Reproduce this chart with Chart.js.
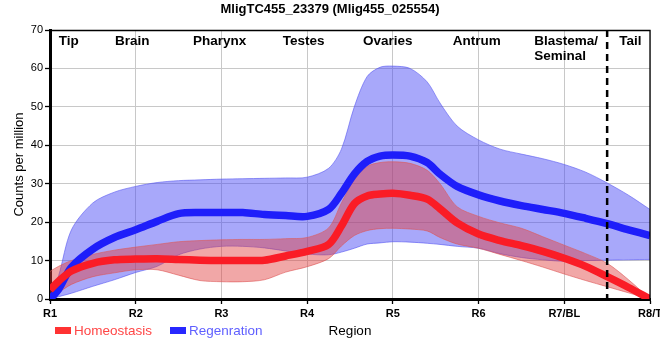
<!DOCTYPE html>
<html>
<head>
<meta charset="utf-8">
<script src="https://cdn.jsdelivr.net/npm/chart.js@4.4.1/dist/chart.umd.min.js"></script>
<style>
html,body{margin:0;padding:0;background:#fff;}
#wrap{width:660px;height:360px;position:relative;}
</style>
</head>
<body>
<div id="wrap"><canvas id="c" width="660" height="360"></canvas></div>
<script>
// ---- data ----
const chartTitle = "MligTC455_23379 (Mlig455_025554)";
const xTickLabels = ["R1", "R2", "R3", "R4", "R5", "R6", "R7/BL", "R8/T"];
const regionNames = ["Tip", "Brain", "Pharynx", "Testes", "Ovaries", "Antrum", ["Blastema/", "Seminal"], "Tail"];
const regionAt = [0.22, 0.96, 1.98, 2.96, 3.94, 4.98, 5.65, 6.77];
const seriesNames = ["Homeostasis", "Regenration"];
const boundaryAt = 6.5;
const xPos = [0, 0.1, 0.25, 0.5, 0.75, 1, 1.25, 1.5, 1.75, 2, 2.25, 2.5, 2.75, 3, 3.25, 3.4, 3.55, 3.7, 3.85, 4, 4.2, 4.4, 4.55, 4.75, 5, 5.25, 5.5, 5.75, 6, 6.25, 6.5, 6.75, 7];
const homeoMean  = [2.4, 4.6, 7.3, 9.3, 10.2, 10.4, 10.5, 10.3, 10.1, 10, 10, 10.1, 11.2, 12.4, 14.2, 19, 24.8, 26.8, 27.3, 27.5, 27, 26, 23.5, 19.8, 16.9, 15.2, 13.9, 12.4, 10.6, 8.5, 5.8, 3, 0];
const homeoUpper = [7.2, 8.5, 10, 11.6, 12.7, 13.5, 14.2, 14.9, 15.2, 15.4, 15.5, 15.5, 15.7, 16, 18.5, 25, 31, 34.5, 35.5, 35.7, 35.3, 33.5, 30, 24, 21.5, 19.8, 18.4, 16.2, 14, 11.8, 9.3, 5, 0];
const homeoLower = [0.5, 1.7, 3.8, 5.8, 6.8, 7.6, 7.6, 6.2, 4.8, 4.5, 4.5, 5, 7, 8.4, 10.5, 13.8, 16.5, 17.8, 18.3, 18.4, 18.2, 17.7, 16, 14.3, 13.2, 11.6, 10, 8.3, 6.5, 4.8, 3.2, 1.6, 0];
const regenMean  = [0, 2.5, 8.3, 13, 16, 18, 20.2, 22.2, 22.5, 22.5, 22.5, 22, 21.7, 21.5, 23.3, 27.5, 32.5, 35.8, 37.2, 37.5, 37.2, 35.5, 32.5, 29.3, 27.1, 25.5, 24.3, 23.3, 22.3, 21, 19.6, 18, 16.5];
const regenUpper = [0, 6, 18, 25, 27.8, 29.3, 30.3, 30.8, 31, 31.2, 31.3, 31.4, 31.5, 31.7, 34, 39, 50, 57.9, 60.3, 60.6, 60, 56.5, 51, 45, 41.4, 39, 37.7, 36.5, 35, 33, 30.2, 27, 23.3];
const regenLower = [0, 0.6, 1.5, 3.3, 5, 6.9, 8.5, 11.5, 13, 13.7, 13.7, 13.3, 12.5, 11.7, 11.5, 12.2, 13.2, 14.3, 14.6, 14.9, 14.8, 14.5, 14.2, 13.7, 13.2, 11.8, 10.8, 10.2, 9.8, 10, 10.1, 10.2, 10.3];

const pts = arr => arr.map((v, i) => ({x: xPos[i], y: v}));
const FONT = "'Liberation Sans', Arial, sans-serif";

const RED_LINE = 'rgb(250,28,38)';
const BLUE_LINE = 'rgb(30,30,250)';
const RED_FILL = 'rgba(225,60,60,0.45)';
const BLUE_FILL = 'rgba(70,70,245,0.47)';

const base = {pointRadius: 0, pointHoverRadius: 0, tension: 0.3};

const decor = {
  id: 'decor',
  afterDatasetsDraw(chart) {
    const {ctx, chartArea: a, scales: {x}} = chart;
    ctx.save();
    // dashed boundary
    const bx = x.getPixelForValue(boundaryAt);
    ctx.strokeStyle = '#000';
    ctx.lineWidth = 2.5;
    ctx.setLineDash([7, 5]);
    ctx.beginPath(); ctx.moveTo(bx, a.top); ctx.lineTo(bx, a.bottom + 5); ctx.stroke();
    ctx.setLineDash([]);
    // thin top/right frame
    ctx.lineWidth = 1.3;
    ctx.beginPath();
    ctx.moveTo(a.left, a.top + 0.5); ctx.lineTo(a.right, a.top + 0.5); ctx.lineTo(a.right, a.bottom);
    ctx.stroke();
    // region labels
    ctx.fillStyle = '#000';
    ctx.font = 'bold 13.5px ' + FONT;
    ctx.textBaseline = 'middle';
    regionNames.forEach((n, i) => {
      const px = x.getPixelForValue(regionAt[i]);
      if (Array.isArray(n)) {
        ctx.textAlign = 'left';
        n.forEach((line, j) => ctx.fillText(line, px, 41 + j * 15));
      } else {
        ctx.textAlign = 'center';
        ctx.fillText(n, px, 41);
      }
    });
    // title
    ctx.font = 'bold 13px ' + FONT;
    ctx.textAlign = 'center';
    ctx.fillText(chartTitle, 330, 9);
    // legend
    const items = [
      {text: seriesNames[0], box: 'rgb(255,50,50)', color: 'rgb(255,70,70)', x: 55},
      {text: seriesNames[1], box: 'rgb(40,40,255)', color: 'rgb(95,95,255)', x: 170}
    ];
    ctx.font = '13.5px ' + FONT;
    ctx.textAlign = 'left';
    items.forEach(it => {
      ctx.fillStyle = it.box;
      ctx.fillRect(it.x, 327, 16, 7);
      ctx.fillStyle = it.color;
      ctx.fillText(it.text, it.x + 19, 331);
    });
    ctx.restore();
  }
};

new Chart(document.getElementById('c'), {
  type: 'line',
  data: {
    datasets: [
      Object.assign({label: 'regenUpper', data: pts(regenUpper), borderColor: 'rgba(90,90,240,0.6)', borderWidth: 1, backgroundColor: BLUE_FILL, fill: '+1', order: 3}, base),
      Object.assign({label: 'regenLower', data: pts(regenLower), borderColor: 'rgba(90,90,240,0.6)', borderWidth: 1, fill: false, order: 3}, base),
      Object.assign({label: 'homeoUpper', data: pts(homeoUpper), borderColor: 'rgba(220,90,90,0.6)', borderWidth: 1, backgroundColor: RED_FILL, fill: '+1', order: 2}, base),
      Object.assign({label: 'homeoLower', data: pts(homeoLower), borderColor: 'rgba(220,90,90,0.6)', borderWidth: 1, fill: false, order: 2}, base),
      Object.assign({label: seriesNames[1], data: pts(regenMean), borderColor: BLUE_LINE, borderWidth: 7.5, fill: false, order: 1}, base),
      Object.assign({label: seriesNames[0], data: pts(homeoMean), borderColor: RED_LINE, borderWidth: 7.5, fill: false, order: 0}, base)
    ]
  },
  options: {
    responsive: false,
    animation: false,
    events: [],
    layout: {padding: {top: 30, right: 10, left: 0, bottom: 0}},
    plugins: {legend: {display: false}, title: {display: false}, tooltip: {enabled: false}},
    scales: {
      x: {
        type: 'linear', min: 0, max: 7,
        afterBuildTicks: s => { s.ticks = xTickLabels.map((l, i) => ({value: i})); },
        afterFit: s => { s.height = 61; s.paddingLeft = 0; s.paddingRight = 0; },
        ticks: {callback: v => xTickLabels[v], color: '#000', font: {family: FONT, size: 11, weight: 'bold'}, maxRotation: 0, autoSkip: false, padding: 3},
        grid: {color: 'rgb(200,200,200)', lineWidth: 1, tickColor: '#000', tickLength: 5, tickWidth: 1.3},
        border: {display: true, color: '#000', width: 3},
        title: {display: true, text: 'Region', color: '#000', font: {family: FONT, size: 13.5}, padding: {top: 0, bottom: 21}}
      },
      y: {
        min: 0, max: 70,
        afterFit: s => { s.width = 50; s.paddingTop = 0; s.paddingBottom = 0; },
        ticks: {stepSize: 10, color: '#000', font: {family: FONT, size: 11}, padding: 2},
        grid: {color: 'rgb(200,200,200)', lineWidth: 1, tickColor: '#000', tickLength: 5, tickWidth: 1.3},
        border: {display: true, color: '#000', width: 3},
        title: {display: true, text: 'Counts per million', color: '#000', font: {family: FONT, size: 13}, padding: {top: 12, bottom: 0}}
      }
    }
  },
  plugins: [decor]
});
</script>
</body>
</html>
